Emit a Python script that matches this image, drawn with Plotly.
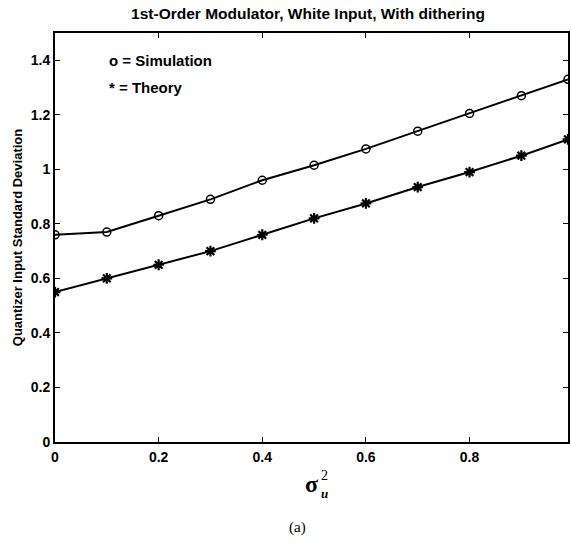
import plotly.graph_objects as go

x_vals = [0, 0.1, 0.2, 0.3, 0.4, 0.5, 0.6, 0.7, 0.8, 0.9, 0.99]
simulation = [0.76, 0.77, 0.83, 0.89, 0.96, 1.015, 1.075, 1.14, 1.205, 1.27, 1.33]
theory = [0.55, 0.60, 0.65, 0.70, 0.76, 0.82, 0.875, 0.935, 0.99, 1.05, 1.11]
x_ticks = [0, 0.2, 0.4, 0.6, 0.8]
x_tick_labels = ["0", "0.2", "0.4", "0.6", "0.8"]
y_ticks = [0, 0.2, 0.4, 0.6, 0.8, 1.0, 1.2, 1.4]
y_tick_labels = ["0", "0.2", "0.4", "0.6", "0.8", "1", "1.2", "1.4"]

W, H = 571, 544
ML, MR, MT, MB = 55, 1, 33, 102
PW, PH = W - ML - MR, H - MT - MB


def px(xp):
    return (xp - ML) / PW


def py(yp):
    return (H - MB - yp) / PH


fig = go.Figure()
fig.add_trace(go.Scatter(x=x_vals, y=simulation, mode="lines+markers",
                         line=dict(color="black", width=2),
                         marker=dict(symbol="circle-open", size=8, color="black",
                                     line=dict(width=1.5, color="black")),
                         name="Simulation"))
fig.add_trace(go.Scatter(x=x_vals, y=theory, mode="lines+markers",
                         line=dict(color="black", width=2),
                         marker=dict(symbol="asterisk-open", size=9, color="black",
                                     line=dict(width=2.2, color="black")),
                         name="Theory"))

font = "Liberation Sans, Arial, sans-serif"
bold = "Liberation Sans, Arial, sans-serif"
fig.update_layout(
    width=W, height=H,
    margin=dict(l=ML, r=MR, t=MT, b=MB),
    paper_bgcolor="white", plot_bgcolor="white",
    showlegend=False,
    font=dict(family=font, color="black", size=13),
    title=dict(text="<b>1st-Order Modulator, White Input, With dithering</b>",
               x=308 / W, xanchor="center", y=1 - 14 / H, yanchor="middle",
               font=dict(family=bold, size=15.5, color="black")),
    xaxis=dict(range=[0, 0.99], tickvals=x_ticks,
               ticktext=["<b>%s</b>" % t for t in x_tick_labels],
               ticks="inside", ticklen=5, tickwidth=1, tickcolor="black",
               showline=True, linecolor="black", linewidth=2, mirror="ticks",
               showgrid=False, zeroline=False, ticklabelstandoff=1,
               tickfont=dict(size=14, family=bold)),
    yaxis=dict(range=[0, 1.5], tickvals=y_ticks,
               ticktext=["<b>%s</b>" % t for t in y_tick_labels],
               ticks="inside", ticklen=5, tickwidth=1, tickcolor="black",
               showline=True, linecolor="black", linewidth=2, mirror="ticks",
               showgrid=False, zeroline=False, ticklabelstandoff=0,
               tickfont=dict(size=14, family=bold),
               title=dict(text="<b>Quantizer Input Standard Deviation</b>",
                          font=dict(size=13, family=bold), standoff=5)),
)

fig.add_annotation(x=0.10, y=1.4, xref="x", yref="y", text="<b>o = Simulation</b>",
                   showarrow=False, xanchor="left", yanchor="middle",
                   font=dict(size=15, family=bold))
fig.add_annotation(x=0.10, y=1.3, xref="x", yref="y", text="<b>* = Theory</b>",
                   showarrow=False, xanchor="left", yanchor="middle",
                   font=dict(size=15, family=bold))
# x-axis label: sigma with stacked sub/superscript
fig.add_annotation(x=px(313), y=py(484), xref="paper", yref="paper", text="<b>σ</b>",
                   showarrow=False, xanchor="center", yanchor="middle",
                   font=dict(size=24, family="Liberation Serif, serif"))
fig.add_annotation(x=px(326), y=py(475), xref="paper", yref="paper", text="2",
                   showarrow=False, xanchor="center", yanchor="middle",
                   font=dict(size=14, family="Liberation Serif, serif"))
fig.add_annotation(x=px(326), y=py(494), xref="paper", yref="paper", text="<b><i>u</i></b>",
                   showarrow=False, xanchor="center", yanchor="middle",
                   font=dict(size=13, family="Liberation Serif, serif"))
fig.add_annotation(x=px(298), y=py(527), xref="paper", yref="paper", text="(a)",
                   showarrow=False, xanchor="center", yanchor="middle",
                   font=dict(size=15, family="Liberation Serif, serif"))

fig.write_html("out.html")
